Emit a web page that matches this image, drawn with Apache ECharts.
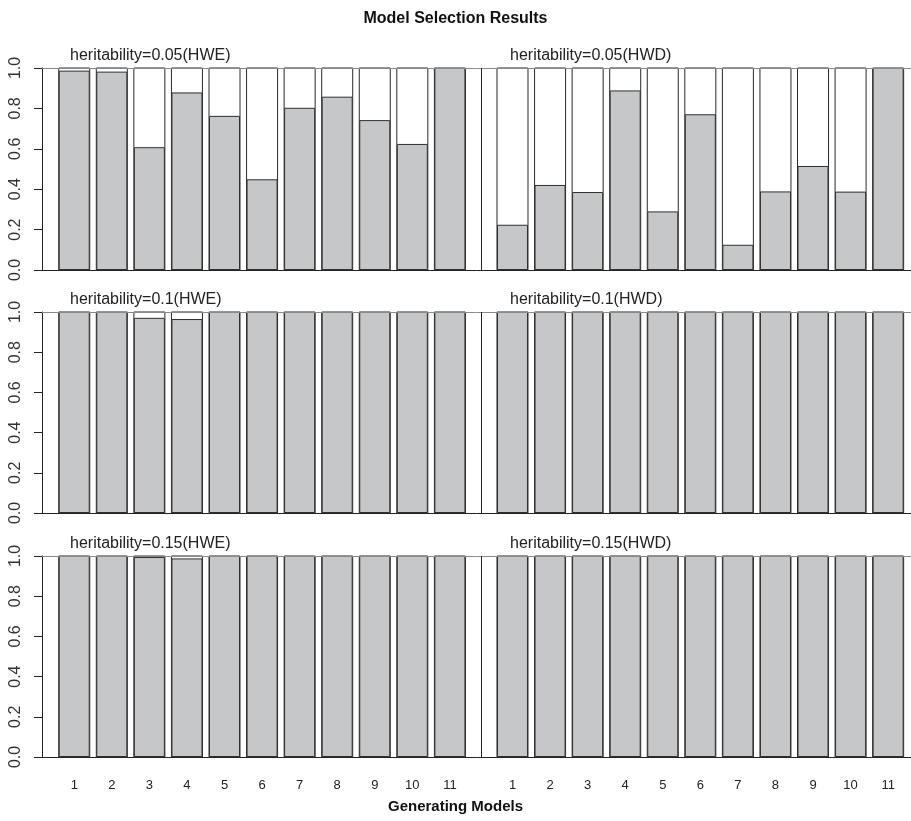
<!DOCTYPE html>
<html>
<head>
<meta charset="UTF-8">
<title>Model Selection Results</title>
<script src="https://cdn.jsdelivr.net/npm/echarts@6/dist/echarts.min.js"></script>
<style>
  html, body { margin: 0; padding: 0; background: #fff; }
</style>
</head>
<body>
<div id="main" style="width: 911px;height:821px;"></div>
<script type="text/javascript">
// generating models
var models = ['1', '2', '3', '4', '5', '6', '7', '8', '9', '10', '11'];
// proportion of correct selections (grey part of each bar)
var hwe005 = [0.987, 0.982, 0.608, 0.879, 0.763, 0.449, 0.803, 0.858, 0.742, 0.624, 1.0];
var hwd005 = [0.224, 0.421, 0.386, 0.889, 0.290, 0.771, 0.125, 0.389, 0.515, 0.388, 1.0];
var hwe01 = [1.0, 1.0, 0.971, 0.965, 1.0, 1.0, 1.0, 1.0, 1.0, 1.0, 1.0];
var hwd01 = [1.0, 1.0, 1.0, 1.0, 1.0, 1.0, 1.0, 1.0, 1.0, 1.0, 1.0];
var hwe015 = [1.0, 1.0, 0.995, 0.988, 1.0, 1.0, 1.0, 1.0, 1.0, 1.0, 1.0];
var hwd015 = [1.0, 1.0, 1.0, 1.0, 1.0, 1.0, 1.0, 1.0, 1.0, 1.0, 1.0];

var panels = [
  { hwe: hwe005, hwd: hwd005, left: 'heritability=0.05(HWE)', right: 'heritability=0.05(HWD)', top: 68, height: 202 },
  { hwe: hwe01, hwd: hwd01, left: 'heritability=0.1(HWE)', right: 'heritability=0.1(HWD)', top: 312, height: 201 },
  { hwe: hwe015, hwd: hwd015, left: 'heritability=0.15(HWE)', right: 'heritability=0.15(HWD)', top: 556, height: 201 }
];

// barplot positions (width 1, space 0.2, one extra unit between the groups)
var leftPos = models.map(function (m, i) { return 0.7 + 1.2 * i; });
var rightPos = models.map(function (m, i) { return 14.7 + 1.2 * i; });
var sepPos = (leftPos[leftPos.length - 1] + rightPos[0]) / 2;

var font = "'Liberation Sans', Arial, sans-serif";

function posLabel(v) {
  for (var i = 0; i < models.length; i++) {
    if (Math.abs(v - leftPos[i]) < 0.01 || Math.abs(v - rightPos[i]) < 0.01) return models[i];
  }
  return '';
}

var myChart = echarts.init(document.getElementById('main'));

var grids = [], xAxes = [], yAxes = [], series = [];
var titles = [
  { text: 'Model Selection Results', left: 'center', top: 11, padding: 0,
    textStyle: { fontFamily: font, fontSize: 16, fontWeight: 'bold', color: '#111' } },
  { text: 'Generating Models', left: 'center', top: 799, padding: 0,
    textStyle: { fontFamily: font, fontSize: 15, fontWeight: 'bold', color: '#111' } }
];

panels.forEach(function (p, k) {
  var last = k === panels.length - 1;
  grids.push({ left: 42, right: 0, top: p.top, height: p.height });
  titles.push({ text: p.left, left: 70, top: p.top - 20, padding: 0,
    textStyle: { fontFamily: font, fontSize: 16, fontWeight: 'normal', color: '#222' } });
  titles.push({ text: p.right, left: 510, top: p.top - 20, padding: 0,
    textStyle: { fontFamily: font, fontSize: 16, fontWeight: 'normal', color: '#222' } });
  xAxes.push({
    gridIndex: k, type: 'value', min: -0.33, max: 27.43,
    splitLine: { show: false },
    axisLine: { show: true, onZero: false, lineStyle: { color: '#222', width: 1 } },
    axisTick: { show: false },
    axisLabel: {
      show: last, customValues: leftPos.concat(rightPos), formatter: posLabel,
      margin: 22, fontFamily: font, fontSize: 13, color: '#222'
    }
  });
  yAxes.push({
    gridIndex: k, type: 'value', min: 0, max: 1, interval: 0.2,
    splitLine: { show: false },
    axisLine: { show: true, onZero: false, lineStyle: { color: '#222', width: 1 } },
    axisTick: { show: true, inside: false, length: 8, lineStyle: { color: '#222' } },
    axisLabel: {
      rotate: 90, margin: 18, fontFamily: font, fontSize: 16, color: '#333',
      formatter: function (v) { return v.toFixed(1); }
    }
  });
  var data = [];
  p.hwe.forEach(function (v, i) { data.push([leftPos[i], v]); });
  p.hwd.forEach(function (v, i) { data.push([rightPos[i], v]); });
  series.push({
    type: 'bar', xAxisIndex: k, yAxisIndex: k, data: data, barWidth: 31,
    showBackground: true,
    backgroundStyle: { color: '#fff', borderColor: '#2a2a2a', borderWidth: 1 },
    itemStyle: { color: '#c6c7c9', borderColor: '#2f2f2f', borderWidth: 1 },
    markLine: {
      silent: true, symbol: ['none', 'none'], label: { show: false },
      data: [
        { yAxis: 1, lineStyle: { color: '#8a8a8a', width: 1, type: 'solid' } },
        { xAxis: sepPos, lineStyle: { color: '#222', width: 1, type: 'solid' } }
      ]
    }
  });
});

var option = {
  animation: false,
  backgroundColor: '#fff',
  title: titles,
  grid: grids,
  xAxis: xAxes,
  yAxis: yAxes,
  series: series
};
myChart.setOption(option);
</script>
</body>
</html>
